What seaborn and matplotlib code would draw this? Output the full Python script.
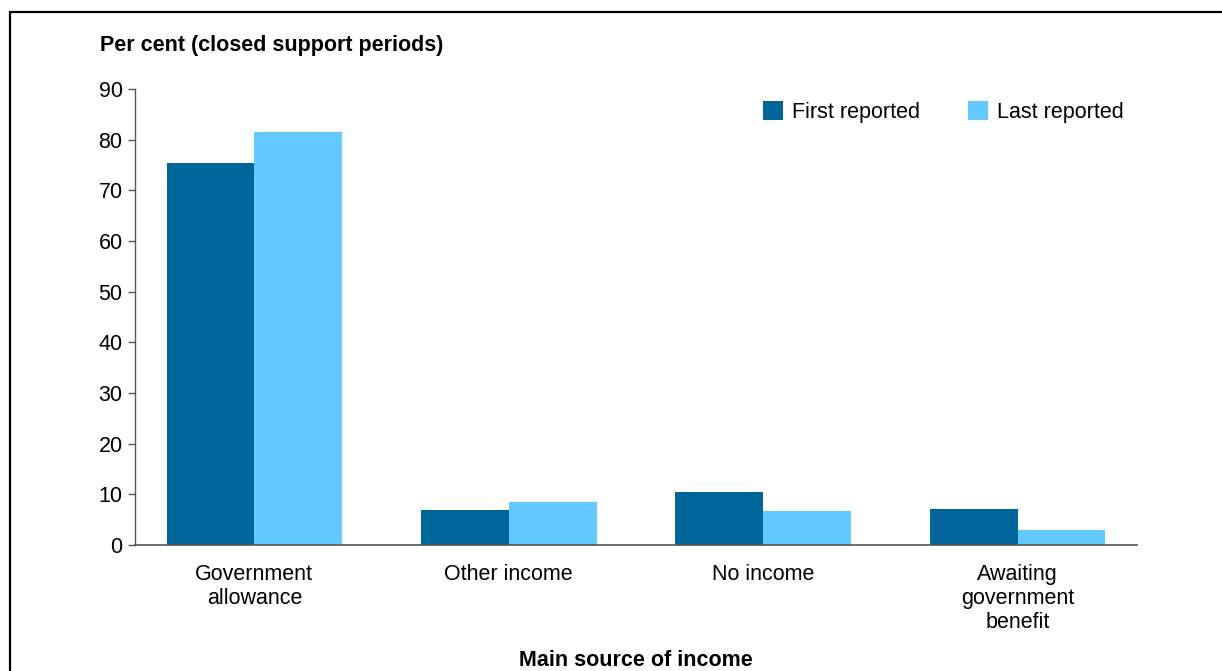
import matplotlib
matplotlib.use('Agg')
import matplotlib.pyplot as plt
from matplotlib.patches import Rectangle
import seaborn as sns
import pandas as pd

# Data
categories = ['Government\nallowance', 'Other income', 'No income',
              'Awaiting\ngovernment\nbenefit']
series_names = ['First reported', 'Last reported']
first_reported = [75.3, 6.9, 10.5, 7.1]
last_reported = [81.6, 8.5, 6.7, 2.9]
y_ticks = [0, 10, 20, 30, 40, 50, 60, 70, 80, 90]

colors = ['#006699', '#61C9FF']

df = pd.DataFrame({
    'category': categories * 2,
    'series': [series_names[0]] * len(categories) + [series_names[1]] * len(categories),
    'value': first_reported + last_reported,
})

sns.set_style('white')
plt.rcParams['font.family'] = ['Liberation Sans', 'DejaVu Sans']
plt.rcParams['text.color'] = 'black'
plt.rcParams['xtick.color'] = 'black'
plt.rcParams['ytick.color'] = 'black'

FS = 15.5

fig = plt.figure(figsize=(12.22, 6.71), dpi=100, facecolor='white')
ax = fig.add_axes([135 / 1222, 1 - 545 / 671, 1002 / 1222, 456 / 671])

sns.barplot(data=df, x='category', y='value', hue='series', palette=colors,
            width=0.69, gap=0, ax=ax, saturation=1, linewidth=0)

ax.set_xlim(-0.469, 3.469)
ax.set_ylim(0, 90)
ax.set_yticks(y_ticks)
ax.set_xlabel('')
ax.set_ylabel('')

# Axes styling
for side in ['top', 'right']:
    ax.spines[side].set_visible(False)
ax.spines['left'].set_color('#555555')
ax.spines['bottom'].set_color('#555555')
ax.spines['left'].set_linewidth(1)
ax.spines['bottom'].set_linewidth(1.2)
ax.tick_params(axis='y', direction='out', length=5, width=1, color='#555555',
               labelcolor='black', labelsize=FS, pad=4, left=True)
ax.tick_params(axis='x', length=0, labelsize=FS, labelcolor='black', pad=14)
for lbl in ax.get_xticklabels():
    lbl.set_linespacing(1.17)
    lbl.set_verticalalignment('top')

# Legend
handles, labels = ax.get_legend_handles_labels()
ax.legend(handles, labels, loc='upper right', ncol=2, frameon=False,
          bbox_to_anchor=(1124 / 1222, 1 - 101 / 671), bbox_transform=fig.transFigure,
          fontsize=FS, handlelength=0.95, handleheight=0.95, handletextpad=0.42,
          columnspacing=2.2, borderaxespad=0, borderpad=0)

# Titles
fig.text(100 / 1222, 1 - 45 / 671, 'Per cent (closed support periods)',
         fontsize=FS, fontweight='bold', ha='left', va='center')
fig.text(636 / 1222, 1 - 661 / 671, 'Main source of income',
         fontsize=FS, fontweight='bold', ha='center', va='center')

# Outer frame of the chart
fig.add_artist(Rectangle((10 / 1222, -0.1), 1.2, 1.1 - 12 / 671,
                         transform=fig.transFigure, fill=False,
                         edgecolor='black', linewidth=1.6))

plt.savefig('out.png', dpi=100, facecolor='white')
